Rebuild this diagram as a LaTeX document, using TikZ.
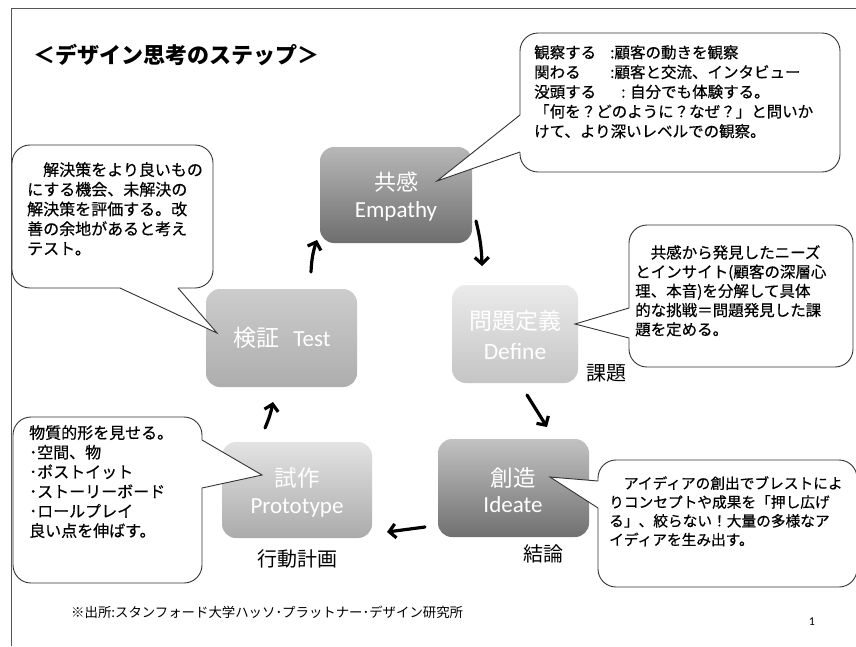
\documentclass[tikz,border=0pt]{standalone}
\usepackage{fontspec}
\usetikzlibrary{arrows.meta,calc}
\newfontfamily\jp{Noto Sans CJK JP}
\newfontfamily\jpm{Noto Sans CJK JP}[FakeBold=0.5]
\newfontfamily\calf{Carlito}
\definecolor{framecol}{HTML}{555555}
\definecolor{linecol}{HTML}{333333}
\tikzset{
  stepbox/.style={rounded corners=14pt, draw=none},
  boxtext/.style={text=white, align=center, inner sep=0pt},
  calloutbox/.style={draw=linecol, line width=0.9pt, fill=white, rounded corners=18pt},
  pointer/.style={draw=linecol, line width=0.9pt},
  callouttext/.style={anchor=north west, align=left, inner sep=0pt,
     font=\jpm\fontsize{15.5}{19.5}\selectfont},
  flowarrow/.style={line width=3.2pt, black, line cap=round,
     -{Straight Barb[length=6.5pt,width=14pt,line width=3.2pt]}},
  label/.style={font=\jp\fontsize{20}{24}\selectfont, inner sep=0pt}
}
\begin{document}
\begin{tikzpicture}[x=1pt,y=-1pt]
\useasboundingbox (0,0) rectangle (856,646);
\fill[white] (0,0) rectangle (856,646);
% frame
\draw[framecol, line width=1pt] (11,646) -- (11,8) -- (856,8);

% title
\node[anchor=west, inner sep=0pt, font=\jp\bfseries\fontsize{22}{26}\selectfont] (title) at (33,55) {＜デザイン思考のステップ＞};

% step boxes
\shade[stepbox, top color=black!28, bottom color=black!57] (320,147) rectangle (472,243);
\node[boxtext, font=\fontsize{23}{27}\selectfont] (emp) at (396,197) {{\jp\fontsize{22}{27}\selectfont 共感}\\{\calf\fontsize{23}{27}\selectfont Empathy}};

\shade[stepbox, top color=black!8, bottom color=black!23] (452,285) rectangle (578,383);
\node[boxtext, font=\fontsize{23}{30}\selectfont] (def) at (515,335) {{\jp\fontsize{23}{30}\selectfont 問題定義}\\{\calf\fontsize{23.5}{30}\selectfont Define}};

\shade[stepbox, top color=black!24, bottom color=black!56] (438,439) rectangle (589,537);
\node[boxtext, font=\fontsize{23}{26.5}\selectfont] (ide) at (513,490) {{\jp\fontsize{22.5}{27}\selectfont 創造}\\{\calf\fontsize{23}{27}\selectfont Ideate}};

\shade[stepbox, top color=black!11, bottom color=black!33] (222,442) rectangle (372,538);
\node[boxtext, font=\fontsize{23}{27}\selectfont] (pro) at (297,492) {{\jp\fontsize{22.5}{27}\selectfont 試作}\\{\calf\fontsize{23}{27}\selectfont Prototype}};

\shade[stepbox, top color=black!20, bottom color=black!32] (206,289) rectangle (357,387);
\node[boxtext] (tst) at (282,338) {{\jp\fontsize{23}{27}\selectfont 検証}\hspace{14pt}{\calf\fontsize{23}{27}\selectfont Test}};

% labels
\node[label, anchor=west] (lab1) at (586,373) {課題};
\node[label] (lab2) at (297,559) {行動計画};
\node[label] (lab3) at (543,554) {結論};

% arrows
\coordinate (a1s) at (311,272); \coordinate (a1e) at (317,240);
\coordinate (a2s) at (476,221); \coordinate (a2e) at (482,266);
\coordinate (a3s) at (527,395); \coordinate (a3e) at (547,427);
\coordinate (a4s) at (425,527); \coordinate (a4e) at (387,532);
\coordinate (a5s) at (265,428); \coordinate (a5e) at (273,402);
\draw[flowarrow] (a1s) to[bend left=8] (a1e);
\draw[flowarrow] (a2s) to[bend left=6] (a2e);
\draw[flowarrow] (a3s) -- (a3e);
\draw[flowarrow] (a4s) -- (a4e);
\draw[flowarrow] (a5s) to[bend right=6] (a5e);

% callout: Empathy
\draw[calloutbox] (520,33) rectangle (840,172);
\fill[white] (520,115) -- (437,181) -- (520,152) -- (523,152) -- (523,115) -- cycle;
\draw[pointer] (520,115) -- (437,181) -- (520,152);
\node[callouttext, font=\jpm\fontsize{15.5}{19.7}\selectfont] (cemp) at (534,45) {%
\makebox[76pt][l]{観察する}:顧客の動きを観察\\
\makebox[76pt][l]{関わる}:顧客と交流、インタビュー\\
\makebox[87pt][l]{没頭する}: 自分でも体験する。\\
「何を？どのように？なぜ？」と問いか\\
けて、より深いレベルでの観察。};

% callout: Define
\draw[calloutbox] (629,225) rectangle (853,367);
\fill[white] (629,308) -- (575,324) -- (629,338) -- (632,338) -- (632,308) -- cycle;
\draw[pointer] (629,308) -- (575,324) -- (629,338);
\node[callouttext, font=\jpm\fontsize{15.5}{19.2}\selectfont] (cdef) at (635,245) {%
　共感から発見したニーズ\\
とインサイト(顧客の深層心\\
理、本音)を分解して具体\\
的な挑戦＝問題発見した課\\
題を定める。};

% callout: Test
\draw[calloutbox] (12,145) rectangle (213,288);
\fill[white] (120,288) -- (217,333) -- (178,288) -- (178,285) -- (120,285) -- cycle;
\draw[pointer] (120,288) -- (217,333) -- (178,288);
\node[callouttext, font=\jpm\fontsize{16}{19.7}\selectfont] (ctst) at (27,162) {%
　解決策をより良いもの\\
にする機会、未解決の\\
解決策を評価する。改\\
善の余地があると考え\\
テスト。};

% callout: Prototype
\draw[calloutbox] (13,417) rectangle (202,583);
\fill[white] (202,440) -- (262,475) -- (202,488) -- (199,488) -- (199,440) -- cycle;
\draw[pointer] (202,440) -- (262,475) -- (202,488);
\node[callouttext, font=\jpm\fontsize{16}{19.6}\selectfont] (cpro) at (29,425) {%
物質的形を見せる。\\
･空間、物\\
･ポストイット\\
･ストーリーボード\\
･ロールプレイ\\
良い点を伸ばす。};

% callout: Ideate
\draw[calloutbox] (598,460) rectangle (857,587);
\fill[white] (598,481) -- (550,477) -- (598,508) -- (601,508) -- (601,481) -- cycle;
\draw[pointer] (598,481) -- (550,477) -- (598,508);
\node[callouttext, font=\jpm\fontsize{14.7}{18.8}\selectfont] (cide) at (609,476) {%
　アイディアの創出でブレストによ\\
りコンセプトや成果を「押し広げ\\
る」、絞らない！大量の多様なア\\
イディアを生み出す。};

% footer
\node[anchor=west, inner sep=0pt, font=\jp\fontsize{13.4}{16}\selectfont] (foot) at (71,612) {※出所:スタンフォード大学ハッソ･プラットナー･デザイン研究所};
\node[inner sep=0pt, font=\calf\fontsize{12}{14}\selectfont] (pnum) at (812,622) {1};
\end{tikzpicture}
\end{document}
